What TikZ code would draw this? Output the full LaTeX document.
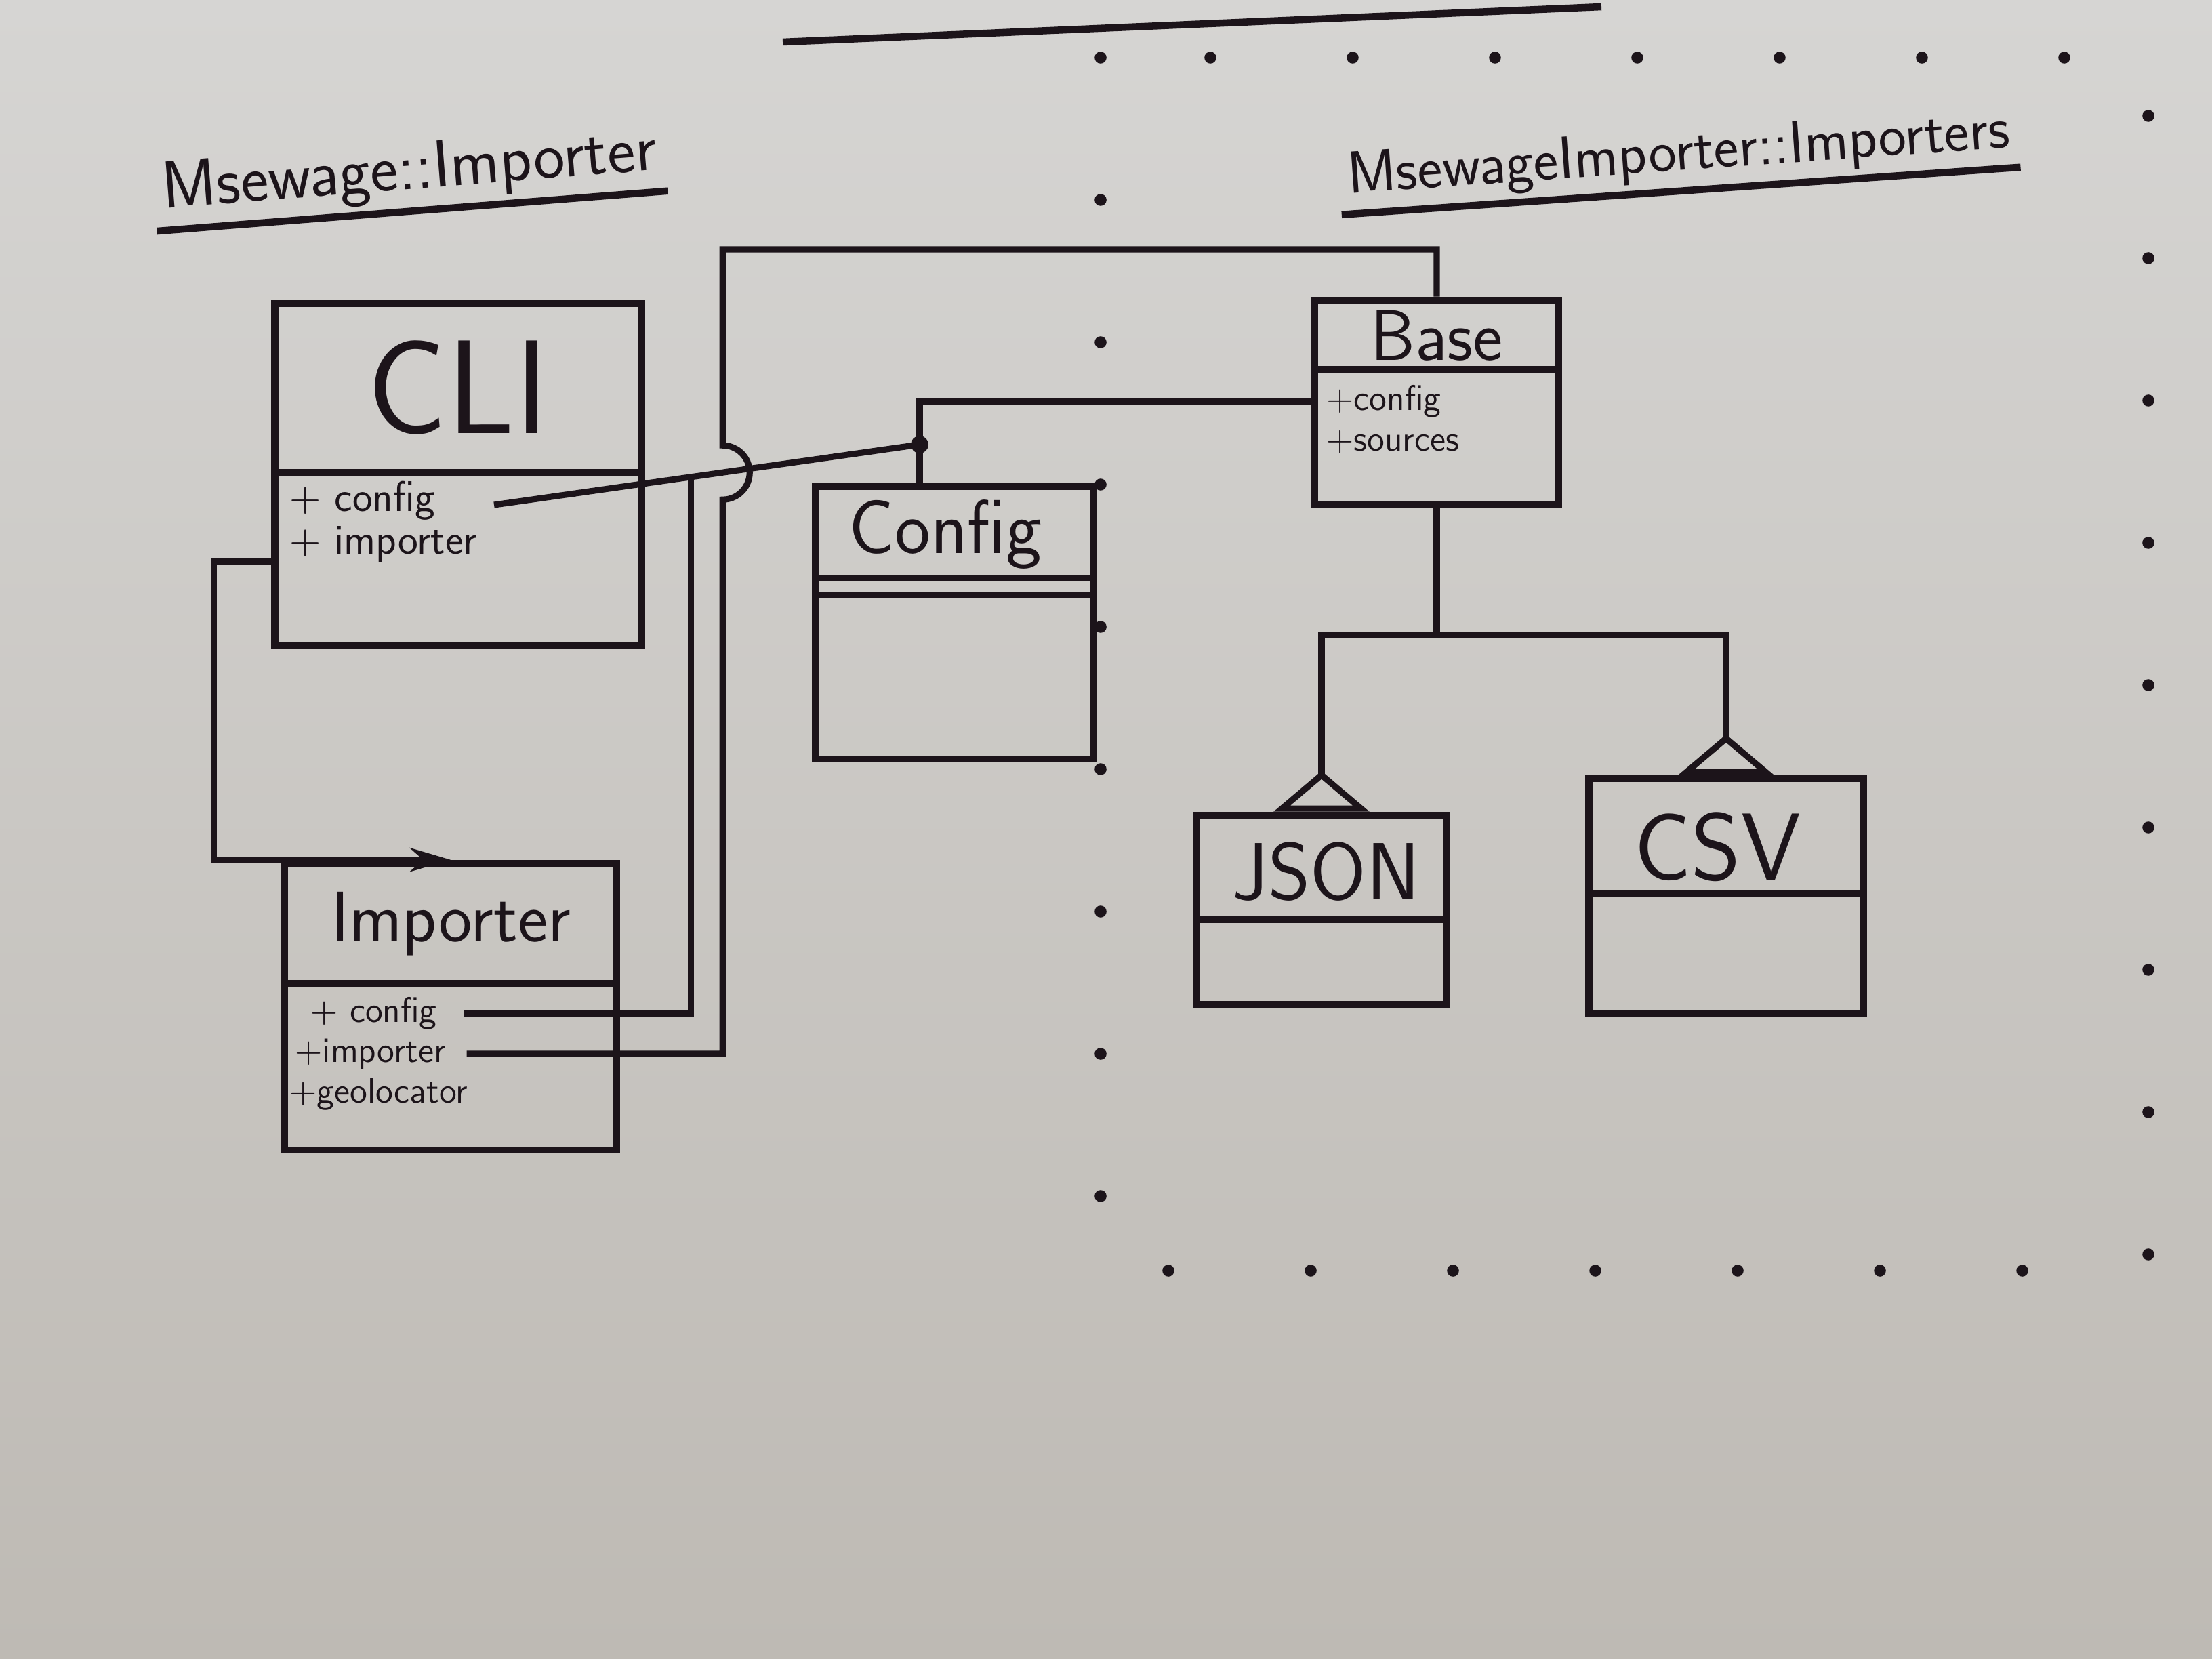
\documentclass[tikz,border=0pt]{standalone}
\usepackage{tikz}
\usetikzlibrary{arrows.meta,calc}
\definecolor{ink}{RGB}{28,20,26}
\definecolor{paperhi}{RGB}{214,213,211}
\definecolor{paperlo}{RGB}{190,186,180}
\tikzstyle{cls} = [draw=ink, line width=3pt, inner sep=0pt]
\tikzstyle{cname} = [text=ink, font={\normalfont\sffamily\fontsize{30}{30}\selectfont}]
\tikzstyle{attr} = [text=ink, anchor=west, inner sep=0pt, font={\normalfont\sffamily\fontsize{18}{18}\selectfont}]
\tikzstyle{small} = [font={\normalfont\sffamily\fontsize{15}{15}\selectfont}]
\tikzstyle{sep} = [draw=ink, line width=3pt]
\tikzstyle{wire} = [draw=ink, line width=2.6pt]
\tikzstyle{gen} = [wire, -{Triangle[open, reversed, length=0.6cm, width=1.4cm]}]
\tikzstyle{pkg} = [text=ink, font={\normalfont\sffamily\fontsize{28}{28}\selectfont}]
\tikzstyle{dotframe} = [draw=ink, line width=5pt, line cap=round, dash pattern=on 0pt off 2.1cm]

\begin{document}
\begin{tikzpicture}
    \shade[top color=paperhi, bottom color=paperlo] (0,0) rectangle (32.64,-24.48);
    % packages
    \node[pkg, rotate=4.5](pkgL) at (6.04,-2.55){Msewage::Importer};
    \node[pkg, rotate=4, font={\normalfont\sffamily\fontsize{25}{25}\selectfont}](pkgR) at (24.77,-2.3){MsewageImporter::Importers};
    \draw[sep] (pkgL.south west) -- (pkgL.south east);
    \draw[sep] (pkgR.south west) -- (pkgR.south east);
    \draw[sep] (11.55,-0.62) -- (23.63,-0.10);
    \draw[dotframe] (16.24,-0.85) rectangle (31.7,-18.75);

    % CLI
    \node[cls, minimum width=5.41cm, minimum height=5.05cm](cli) at (6.76,-7.0){};
    \draw[sep] (cli.west |- 0,-6.97) -- (cli.east |- 0,-6.97);
    \node[cname, font={\normalfont\sffamily\fontsize{56}{56}\selectfont}](cliname) at (6.76,-5.72){CLI};
    \node[attr](cconf) at (4.27,-7.39){+ config};
    \node[attr](cimp) at (4.27,-8.03){+ importer};

    % Importer
    \node[cls, minimum width=4.9cm, minimum height=4.23cm](imp) at (6.65,-14.855){};
    \draw[sep] (imp.west |- 0,-14.51) -- (imp.east |- 0,-14.51);
    \node[cname](impname) at (6.65,-13.63){Importer};
    \node[attr, small](iconf) at (4.58,-14.95){+ config};
    \node[attr, small](iimp) at (4.35,-15.55){+importer};
    \node[attr, small](igeo) at (4.27,-16.15){+geolocator};

    % Config
    \node[cls, minimum width=4.1cm, minimum height=4.02cm](cfg) at (14.08,-9.19){};
    \draw[sep] (cfg.west |- 0,-8.53) -- (cfg.east |- 0,-8.53);
    \draw[sep] (cfg.west |- 0,-8.78) -- (cfg.east |- 0,-8.78);
    \node[cname, font={\normalfont\sffamily\fontsize{32}{32}\selectfont}](cfgname) at (13.95,-7.88){Config};

    % Base
    \node[cls, minimum width=3.6cm, minimum height=3.02cm](base) at (21.2,-5.94){};
    \draw[sep] (base.west |- 0,-5.45) -- (base.east |- 0,-5.45);
    \node[cname](basename) at (21.2,-4.95){Base};
    \node[attr, small](bconf) at (19.57,-5.92){+config};
    \node[attr, small](bsrc) at (19.57,-6.52){+sources};

    % JSON / CSV
    \node[cls, minimum width=3.69cm, minimum height=2.79cm](json) at (19.5,-13.425){};
    \draw[sep] (json.west |- 0,-13.57) -- (json.east |- 0,-13.57);
    \node[cname, font={\normalfont\sffamily\fontsize{34}{34}\selectfont}](jsonname) at (19.57,-12.86){JSON};
    \node[cls, minimum width=4.05cm, minimum height=3.46cm](csv) at (25.47,-13.22){};
    \draw[sep] (csv.west |- 0,-13.18) -- (csv.east |- 0,-13.18);
    \node[cname, font={\normalfont\sffamily\fontsize{40}{40}\selectfont}](csvname) at (25.34,-12.5){CSV};

    % associations
    \coordinate (ca) at (7.29,-7.45);
    \coordinate (j1) at (13.57,-6.56);
    \coordinate (k1) at ($(ca)!0.463!(j1)$);
    \coordinate (k2) at ($(ca)!0.537!(j1)$);
    \coordinate (ttop) at (0,-3.68);
    \draw[wire] (ca) -- (j1);
    \fill[ink] (j1) circle (0.13);
    \draw[wire] (j1 |- cfg.north) -- (j1) |- (base.west |- bconf);
    \draw[wire] ([xshift=0.4cm]iconf.east) -| (k1);
    \draw[wire] ([xshift=0.3cm]iimp.east) -| ([yshift=-0.4cm]k2) arc[start angle=-90, end angle=90, radius=0.4cm] -- (k2 |- ttop) -| (base.north);
    \draw[wire, -{Stealth[length=0.6cm, width=0.35cm]}] ($(cli.west |- cimp)+(0,-0.25)$) -- ++(-0.85,0) |- (imp.north);

    % generalisation
    \coordinate (gj) at (base.south |- 0,-9.37);
    \draw[wire] (base.south) -- (gj);
    \draw[gen] (gj) -| (json.north);
    \draw[gen] (gj) -| (csv.north);
\end{tikzpicture}
\end{document}
